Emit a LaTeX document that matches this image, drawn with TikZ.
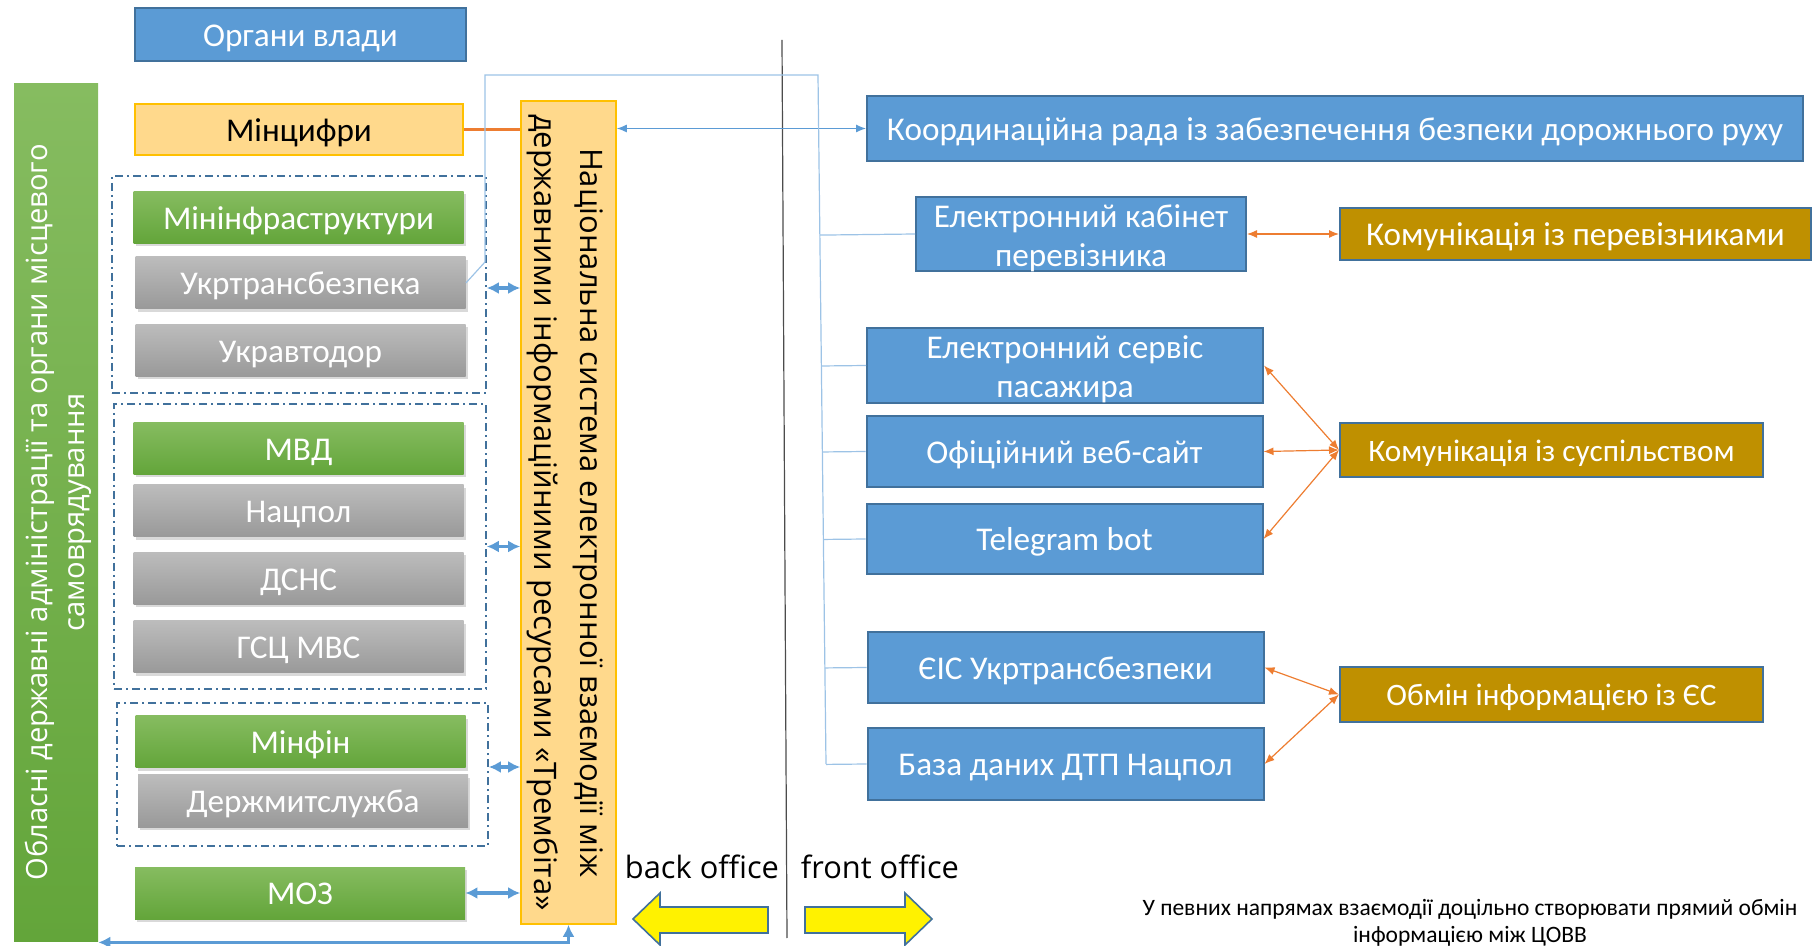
\documentclass[tikz,border=0pt]{standalone}
\usepackage{fontspec}
\setmainfont{Carlito}
\newfontfamily\segoe{Open Sans}
\usetikzlibrary{shadows,calc,arrows.meta}

\definecolor{blueFill}{HTML}{5B9BD5}
\definecolor{blueLine}{HTML}{41719C}
\definecolor{orangeLine}{HTML}{ED7D31}
\definecolor{goldFill}{HTML}{BF9000}
\definecolor{peachFill}{HTML}{FFD98C}
\definecolor{amberLine}{HTML}{FFC000}
\definecolor{treeLine}{HTML}{9DC3E6}
\definecolor{greenTop}{HTML}{86BC60}
\definecolor{greenBot}{HTML}{63A53A}
\definecolor{greyTop}{HTML}{BCBCBC}
\definecolor{greyBot}{HTML}{999999}

\newcommand{\firstline}[1]{\rule{0pt}{#1}}

\tikzset{
  box/.style={minimum width=165pt, minimum height=26pt, inner sep=0pt,
    font=\fontsize{16.6}{19.5}\selectfont, text height=15.2pt, text depth=3.3pt},
  twoline/.style={text height=, text depth=, align=center},
  softshadow/.style={drop shadow={shadow xshift=1pt, shadow yshift=-1.5pt, opacity=0.3}},
  bluebox/.style={box, fill=blueFill, draw=blueLine, line width=1pt, text=white},
  goldbox/.style={box, fill=goldFill, draw=blueLine, line width=1pt, text=white},
  smallgold/.style={goldbox, font=\fontsize{15.6}{18.5}\selectfont, text height=14.3pt, text depth=3.1pt},
  greenbox/.style={box, top color=greenTop, bottom color=greenBot, text=white, softshadow},
  greybox/.style={box, top color=greyTop, bottom color=greyBot, text=white, softshadow},
  groupbox/.style={draw=blueLine, line width=0.8pt, dash pattern=on 4pt off 2pt on 1pt off 2pt},
  thicklink/.style={{Latex[length=6pt,width=6pt]}-{Latex[length=6pt,width=6pt]}, draw=blueFill, line width=1.6pt},
  thinlink/.style={{Latex[length=5pt,width=4pt]}-{Latex[length=5pt,width=4pt]}, draw=blueFill, line width=0.6pt},
  orangelink/.style={{Latex[length=5pt,width=4pt]}-{Latex[length=5pt,width=4pt]}, draw=orangeLine, line width=0.6pt},
  treeline/.style={draw=treeLine, line width=0.6pt},
  officearrow/.style={fill=yellow, draw=blueLine, line width=0.8pt},
}

\begin{document}
\begin{tikzpicture}[x=0.5pt,y=-0.5pt]
\useasboundingbox (0,0) rectangle (1812,946);

% left column
\node[bluebox, minimum width=165.5pt, minimum height=26.5pt] (organy) at (300.5,34.5) {Органи влади};

\node[top color=greenTop, bottom color=greenBot, minimum width=42pt, minimum height=428.5pt] (oblbar) at (56,512.5) {};
\node[rotate=90, align=center, text=white, font=\segoe\fontsize{14.6}{18.5}\selectfont] (obltext) at (oblbar.center)
  {\firstline{14pt}Обласні державні адміністрації та органи місцевого\\самоврядування};

\node[box, fill=peachFill, draw=amberLine, line width=0.8pt, minimum width=164pt, minimum height=25.5pt] (mincyfry) at (299,129.5) {Мінцифри};

% groups of ministries
\node[groupbox, minimum width=187pt, minimum height=108.5pt] (grp1) at (299,284.5) {};
\node[groupbox, minimum width=186pt, minimum height=142.5pt] (grp2) at (300,546.5) {};
\node[groupbox, minimum width=185.5pt, minimum height=71.5pt] (grp3) at (302.5,774.5) {};

\node[greenbox] (mininfra) at (298.5,217.5) {Мінінфраструктури};
\node[greybox] (ukrtrans) at (300.5,283) {Укртрансбезпека};
\node[greybox] (ukravtodor) at (300.5,350.5) {Укравтодор};
\node[greenbox] (mvd) at (298.5,448.5) {МВД};
\node[greybox] (nacpol) at (298.5,511) {Нацпол};
\node[greybox] (dsns) at (298.5,578.5) {ДСНС};
\node[greybox] (gsc) at (298.5,647) {ГСЦ МВС};
\node[greenbox] (minfin) at (300.5,742) {Мінфін};
\node[greybox] (mytnytsia) at (303,801) {Держмитслужба};
\node[greenbox] (moz) at (300,893) {МОЗ};

% Trembita
\node[fill=peachFill, draw=amberLine, line width=0.8pt, minimum width=47.5pt, minimum height=411.5pt] (trembita) at (568.5,512.5) {};
\node[rotate=-90, align=center, font=\segoe\fontsize{15.5}{23}\selectfont] (trembitatext) at (trembita.center)
  {\firstline{15pt}Національна система електронної взаємодії між\\державними інформаційними ресурсами «Трембіта»};

% right column
\node[bluebox, minimum width=468pt, minimum height=32.5pt] (koordrada) at (1335,128.5) {Координаційна рада із забезпечення безпеки дорожнього руху};
\node[bluebox, twoline, minimum width=165pt, minimum height=35pt] (kabinet) at (1081,234) {\firstline{15.2pt}Електронний кабінет\\перевізника};
\node[bluebox, twoline, minimum width=198pt, minimum height=35.5pt] (servis) at (1065,365.5) {\firstline{15.2pt}Електронний сервіс\\пасажира};
\node[bluebox, minimum width=198pt, minimum height=35.5pt] (vebsait) at (1064.5,451.5) {Офіційний веб-сайт};
\node[bluebox, minimum width=198pt, minimum height=35pt] (telegram) at (1064.5,539) {Telegram bot};
\node[bluebox, minimum width=198pt, minimum height=35.5pt] (eis) at (1065.5,667.5) {ЄІС Укртрансбезпеки};
\node[bluebox, minimum width=198pt, minimum height=36pt] (baza) at (1065.5,764) {База даних ДТП Нацпол};

\node[goldbox, minimum width=235.5pt, minimum height=26pt] (perevizn) at (1575.5,234) {Комунікація із перевізниками};
\node[smallgold, minimum width=211.5pt, minimum height=27pt] (suspil) at (1551.5,450) {Комунікація із суспільством};
\node[smallgold, minimum width=211.5pt, minimum height=27.5pt] (obmines) at (1551.5,694.5) {Обмін інформацією із ЄС};

% back office / front office
\coordinate (divtop) at (782,40);
\coordinate (divbot) at (787,938);
\draw[gray!60!black, line width=0.6pt] (divtop) -- (divbot);
\node[font=\segoe\fontsize{15.4}{18}\selectfont] (backlbl) at (702,867) {back office};
\node[font=\segoe\fontsize{15.4}{18}\selectfont] (frontlbl) at (880,867) {front office};
\draw[officearrow] (633,919) -- (660,893) -- (660,907) -- (768,907) -- (768,933) -- (660,933) -- (660,945) -- cycle;
\draw[officearrow] (805,907) -- (905,907) -- (905,893) -- (932,919) -- (905,945) -- (905,933) -- (805,933) -- cycle;

\node[align=center, font=\fontsize{11.75}{13.5}\selectfont] (note) at (1470,922.5)
  {У певних напрямах взаємодії доцільно створювати прямий обмін\\інформацією між ЦОВВ};

% connectors
\draw[orangeLine, line width=1.5pt] (mincyfry.east) -- (mincyfry.east -| trembita.west);
\draw[thinlink] (koordrada.west -| trembita.east) -- (koordrada.west);

\draw[thicklink] (grp1.east |- 0,288) -- (trembita.west |- 0,288);
\draw[thicklink] (grp2.east) -- (grp2.east -| trembita.west);
\draw[thicklink] (grp3.east |- 0,767) -- (trembita.west |- 0,767);
\draw[thicklink] (moz.east) -- (moz.east -| trembita.west);

\coordinate (busleft) at ($(oblbar.south east)+(0,1)$);
\draw[thicklink] (busleft) -- (busleft -| trembita.south) -- (trembita.south);

% thin tree to front office services
\coordinate (treeA) at (485,262);
\coordinate (treeB) at (485,75);
\coordinate (treeC) at (818,75);
\coordinate (treeD) at (826,764);
\draw[treeline] (ukrtrans.east) -- (treeA) -- (treeB) -- (treeC) -- (treeD);
\foreach \svc in {kabinet,servis,vebsait,telegram,eis,baza}
  \draw[treeline] ($(treeC)!(\svc.west)!(treeD)$) -- (\svc.west);

% orange links
\draw[orangelink] (kabinet.east) -- (perevizn.west);
\foreach \svc in {servis,vebsait,telegram}
  \draw[orangelink] (suspil.west) -- (\svc.east);
\foreach \svc in {eis,baza}
  \draw[orangelink] (obmines.west) -- (\svc.east);

\end{tikzpicture}
\end{document}
